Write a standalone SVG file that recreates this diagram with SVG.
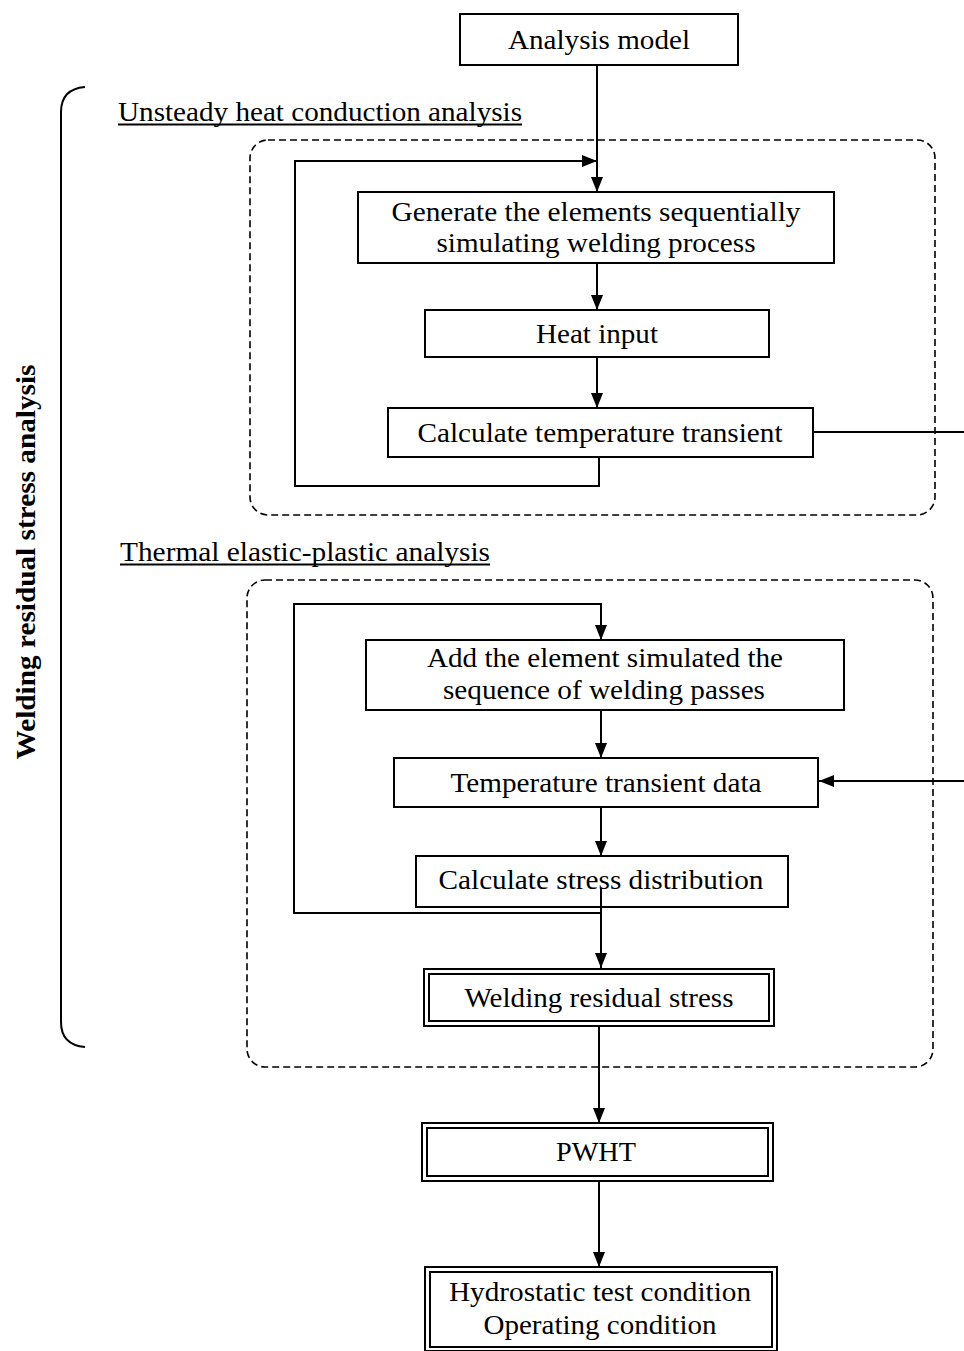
<svg xmlns="http://www.w3.org/2000/svg" width="964" height="1351" viewBox="0 0 964 1351">
<style>
.box{fill:#fff;stroke:#000;stroke-width:2}
.dbl{fill:none;stroke:#000;stroke-width:2}
.dash{fill:none;stroke:#000;stroke-width:1.6;stroke-dasharray:7 4}
.ln{fill:none;stroke:#000;stroke-width:2}
.ul{fill:none;stroke:#000;stroke-width:2}
.t{font-family:"Liberation Serif","Times New Roman",serif;font-size:27px;fill:#000;text-anchor:middle}
.h{font-family:"Liberation Serif","Times New Roman",serif;font-size:27px;fill:#000}
.v{font-family:"Liberation Serif","Times New Roman",serif;font-size:27px;font-weight:bold;fill:#000;text-anchor:middle}
</style>
<defs>
<marker id="ah" viewBox="0 0 15 12" refX="15" refY="6" markerWidth="15" markerHeight="12" markerUnits="userSpaceOnUse" orient="auto">
<path d="M0,0 L15,6 L0,12 Z" fill="#000"/>
</marker>
</defs>
<rect width="964" height="1351" fill="#fff"/>

<g id="bracket">
<path class="ln" d="M85,87 Q61,89 61,112 L61,1022 Q61,1045 85,1047"/>
<text class="v" transform="translate(35,562) rotate(-90)" textLength="395" lengthAdjust="spacingAndGlyphs">Welding residual stress analysis</text>
</g>

<g id="group-heat">
<rect class="dash" x="250" y="140" width="685" height="375" rx="18"/>
<text class="h" x="118" y="121" textLength="404" lengthAdjust="spacingAndGlyphs">Unsteady heat conduction analysis</text>
<line class="ul" x1="118" y1="124.5" x2="522" y2="124.5"/>
</g>
<g id="group-thermal">
<rect class="dash" x="247" y="580" width="686" height="487" rx="18"/>
<text class="h" x="120" y="561" textLength="370" lengthAdjust="spacingAndGlyphs">Thermal elastic-plastic analysis</text>
<line class="ul" x1="120" y1="564.5" x2="490" y2="564.5"/>
</g>

<g id="connectors">
<line class="ln" x1="597" y1="65" x2="597" y2="192" marker-end="url(#ah)"/>
<polyline class="ln" points="599,457 599,486 295,486 295,161 597,161" marker-end="url(#ah)"/>
<line class="ln" x1="597" y1="263" x2="597" y2="310" marker-end="url(#ah)"/>
<line class="ln" x1="597" y1="357" x2="597" y2="408" marker-end="url(#ah)"/>
<line class="ln" x1="813" y1="432" x2="966" y2="432"/>
<polyline class="ln" points="601,913 294,913 294,604 601,604 601,640" marker-end="url(#ah)"/>
<line class="ln" x1="601" y1="710" x2="601" y2="758" marker-end="url(#ah)"/>
<line class="ln" x1="966" y1="781" x2="819" y2="781" marker-end="url(#ah)"/>
<line class="ln" x1="601" y1="807" x2="601" y2="856" marker-end="url(#ah)"/>
<line class="ln" x1="599" y1="1027" x2="599" y2="1123" marker-end="url(#ah)"/>
<line class="ln" x1="599" y1="1181" x2="599" y2="1267" marker-end="url(#ah)"/>
</g>

<g id="analysis-model">
<rect class="box" x="460" y="14" width="278" height="51"/>
<text class="t" x="599" y="49" textLength="182" lengthAdjust="spacingAndGlyphs">Analysis model</text>
</g>
<g id="generate">
<rect class="box" x="358" y="192" width="476" height="71"/>
<text class="t" x="596" y="221" textLength="409" lengthAdjust="spacingAndGlyphs">Generate the elements sequentially</text>
<text class="t" x="596" y="252" textLength="319" lengthAdjust="spacingAndGlyphs">simulating welding process</text>
</g>
<g id="heat-input">
<rect class="box" x="425" y="310" width="344" height="47"/>
<text class="t" x="597" y="343" textLength="122" lengthAdjust="spacingAndGlyphs">Heat input</text>
</g>
<g id="calc-temp">
<rect class="box" x="388" y="408" width="425" height="49"/>
<text class="t" x="600" y="442" textLength="365" lengthAdjust="spacingAndGlyphs">Calculate temperature transient</text>
</g>
<g id="add-element">
<rect class="box" x="366" y="640" width="478" height="70"/>
<text class="t" x="605" y="667" textLength="356" lengthAdjust="spacingAndGlyphs">Add the element simulated the</text>
<text class="t" x="604" y="699" textLength="322" lengthAdjust="spacingAndGlyphs">sequence of welding passes</text>
</g>
<g id="temp-data">
<rect class="box" x="394" y="758" width="424" height="49"/>
<text class="t" x="606" y="792" textLength="311" lengthAdjust="spacingAndGlyphs">Temperature transient data</text>
</g>
<g id="calc-stress">
<rect x="416" y="856" width="372" height="51" fill="none" stroke="#000" stroke-width="2"/>
<text class="t" x="601" y="889" textLength="325" lengthAdjust="spacingAndGlyphs">Calculate stress distribution</text>
<line class="ln" x1="601" y1="888" x2="601" y2="968" marker-end="url(#ah)"/>
</g>
<g id="welding-residual">
<rect class="box" x="424" y="969" width="350" height="57"/>
<rect class="dbl" x="429" y="974" width="340" height="47"/>
<text class="t" x="599" y="1007" textLength="269" lengthAdjust="spacingAndGlyphs">Welding residual stress</text>
</g>
<g id="pwht">
<rect class="box" x="422" y="1123" width="351" height="58"/>
<rect class="dbl" x="427" y="1128" width="341" height="48"/>
<text class="t" x="596" y="1161" textLength="80" lengthAdjust="spacingAndGlyphs">PWHT</text>
</g>
<g id="conditions">
<rect class="box" x="425" y="1267" width="352" height="84"/>
<rect class="dbl" x="430" y="1272" width="342" height="75"/>
<text class="t" x="600" y="1301" textLength="302" lengthAdjust="spacingAndGlyphs">Hydrostatic test condition</text>
<text class="t" x="600" y="1334" textLength="233" lengthAdjust="spacingAndGlyphs">Operating condition</text>
</g>
</svg>
